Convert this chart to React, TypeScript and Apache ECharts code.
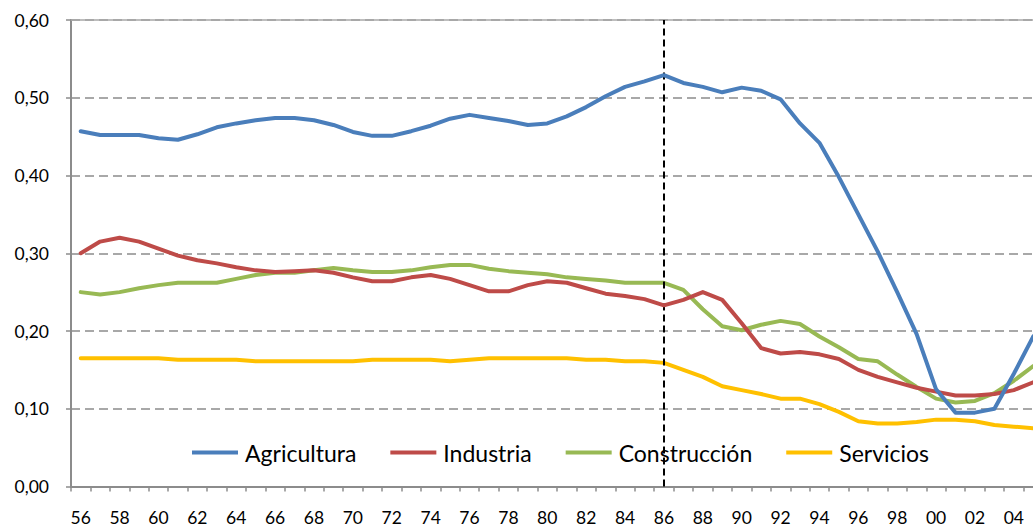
import React, { useEffect, useRef } from "react";
import * as echarts from "echarts";

const years = [
  "56", "57", "58", "59", "60", "61", "62", "63", "64", "65",
  "66", "67", "68", "69", "70", "71", "72", "73", "74", "75",
  "76", "77", "78", "79", "80", "81", "82", "83", "84", "85",
  "86", "87", "88", "89", "90", "91", "92", "93", "94", "95",
  "96", "97", "98", "99", "00", "01", "02", "03", "04", "05",
];

const agricultura = [
  0.457, 0.452, 0.452, 0.452, 0.448, 0.446, 0.453, 0.462, 0.467, 0.471,
  0.474, 0.474, 0.471, 0.465, 0.456, 0.451, 0.451, 0.457, 0.464, 0.473,
  0.478, 0.474, 0.470, 0.465, 0.467, 0.476, 0.488, 0.502, 0.514, 0.521,
  0.529, 0.519, 0.514, 0.507, 0.513, 0.509, 0.498, 0.467, 0.442, 0.398,
  0.350, 0.302, 0.250, 0.196, 0.125, 0.095, 0.095, 0.100, 0.145, 0.193,
];

const industria = [
  0.300, 0.315, 0.320, 0.315, 0.306, 0.297, 0.291, 0.287, 0.282, 0.278,
  0.276, 0.277, 0.278, 0.275, 0.269, 0.264, 0.264, 0.269, 0.272, 0.267,
  0.259, 0.251, 0.251, 0.259, 0.264, 0.262, 0.255, 0.248, 0.245, 0.241,
  0.233, 0.240, 0.250, 0.240, 0.210, 0.178, 0.171, 0.173, 0.170, 0.164,
  0.150, 0.141, 0.134, 0.127, 0.122, 0.117, 0.117, 0.119, 0.124, 0.134,
];

const construccion = [
  0.250, 0.247, 0.250, 0.255, 0.259, 0.262, 0.262, 0.262, 0.267, 0.272,
  0.275, 0.275, 0.278, 0.281, 0.278, 0.276, 0.276, 0.278, 0.282, 0.285,
  0.285, 0.280, 0.277, 0.275, 0.273, 0.269, 0.267, 0.265, 0.262, 0.262,
  0.262, 0.253, 0.228, 0.206, 0.201, 0.208, 0.213, 0.209, 0.193, 0.179,
  0.164, 0.161, 0.144, 0.128, 0.113, 0.108, 0.110, 0.120, 0.136, 0.155,
];

const servicios = [
  0.165, 0.165, 0.165, 0.165, 0.165, 0.163, 0.163, 0.163, 0.163, 0.161,
  0.161, 0.161, 0.161, 0.161, 0.161, 0.163, 0.163, 0.163, 0.163, 0.161,
  0.163, 0.165, 0.165, 0.165, 0.165, 0.165, 0.163, 0.163, 0.161, 0.161,
  0.159, 0.150, 0.141, 0.129, 0.124, 0.119, 0.113, 0.113, 0.106, 0.096,
  0.084, 0.081, 0.081, 0.083, 0.086, 0.086, 0.084, 0.079, 0.077, 0.075,
];

const markYear = "86";

const seriesNames = ["Agricultura", "Industria", "Construcción", "Servicios"];
const seriesColors = ["#4A7EBB", "#BE4B48", "#98B954", "#FFC000"];

export default function App() {
  const ref = useRef<HTMLDivElement>(null);

  useEffect(() => {
    if (!ref.current) return;
    const chart = echarts.init(ref.current, undefined, { renderer: "svg" });
    const dataSets = [agricultura, industria, construccion, servicios];
    const font = "Lato";
    chart.setOption({
      animation: false,
      backgroundColor: "#ffffff",
      grid: { left: 71, top: 20, bottom: 42.5, right: 57, containLabel: false },
      legend: {
        left: 192,
        top: 441,
        padding: 0,
        icon: "rect",
        itemWidth: 46,
        itemHeight: 4,
        itemGap: 34,
        textStyle: { fontFamily: font, fontSize: 23, color: "#000", padding: [0, 0, 0, 2] },
        data: seriesNames,
      },
      xAxis: [
        {
          type: "category",
          data: years,
          boundaryGap: true,
          axisLine: { show: true, lineStyle: { color: "#8c8c8c", width: 2 } },
          axisTick: { show: true, interval: 0, length: 5, inside: false, lineStyle: { color: "#8c8c8c", width: 1.5 } },
          axisLabel: { interval: 1, margin: 22, fontFamily: font, fontSize: 17.5, color: "#000" },
          splitLine: { show: false },
        },
        {
          type: "category",
          position: "top",
          data: years,
          axisLine: { show: true, lineStyle: { color: "#a8a8a8", width: 1.5 } },
          axisTick: { show: false },
          axisLabel: { show: false },
          splitLine: { show: false },
        },
      ],
      yAxis: {
        type: "value",
        min: 0,
        max: 0.6,
        interval: 0.1,
        axisLine: { show: true, lineStyle: { color: "#8c8c8c", width: 2 } },
        axisTick: { show: true, length: 5, lineStyle: { color: "#8c8c8c", width: 1.5 } },
        axisLabel: {
          margin: 22,
          fontFamily: font,
          fontSize: 17.5,
          color: "#000",
          formatter: (v: number) => v.toFixed(2).replace(".", ","),
        },
        splitLine: { show: true, lineStyle: { color: "#8c8c8c", width: 1.5, type: [9, 5] } },
      },
      series: seriesNames.map((name, i) => ({
        name,
        type: "line",
        data: dataSets[i],
        symbol: "none",
        showSymbol: false,
        smooth: false,
        z: 3 + (3 - i),
        lineStyle: { color: seriesColors[i], width: 4, cap: "round", join: "round" },
        itemStyle: { color: seriesColors[i] },
        markLine:
          i === 0
            ? {
                silent: true,
                symbol: ["none", "none"],
                label: { show: false },
                lineStyle: { color: "#000", width: 2, type: [7, 4] },
                data: [{ xAxis: markYear }],
              }
            : undefined,
      })),
    });
    return () => chart.dispose();
  }, []);

  return (
    <div
      style={{
        position: "fixed",
        left: 0,
        top: 0,
        width: 1033,
        height: 529,
        overflow: "hidden",
        background: "#fff",
      }}
    >
      <div ref={ref} style={{ width: 1100, height: 529 }} />
    </div>
  );
}
